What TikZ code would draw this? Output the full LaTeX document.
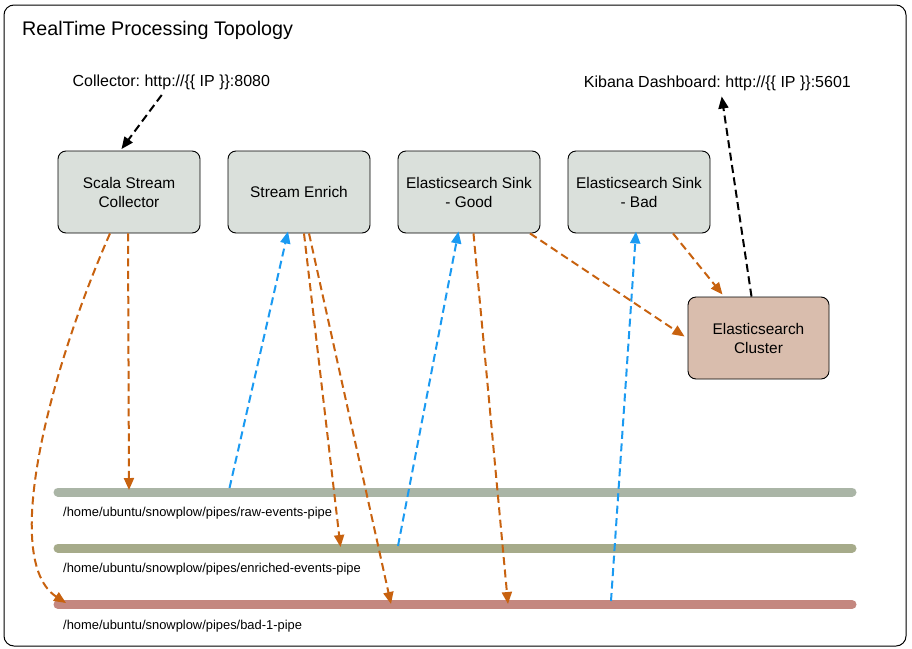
\documentclass[tikz,border=0pt]{standalone}
\usepackage{fontspec}
\setmainfont{Liberation Sans}
\usetikzlibrary{arrows.meta,calc}
\definecolor{orangeln}{HTML}{C8620F}
\definecolor{blueln}{HTML}{1A9AF2}
\definecolor{boxfill}{HTML}{DAE0DB}
\definecolor{clusterfill}{HTML}{D9BDAD}
\definecolor{rawc}{HTML}{AAB5A6}
\definecolor{enrc}{HTML}{A6AB8A}
\definecolor{badc}{HTML}{C4877F}
\frenchspacing
\tikzset{
  boxstyle/.style={draw, line width=0.9pt, rounded corners=8pt, fill=boxfill,
    minimum width=142pt, minimum height=82pt, align=center, inner sep=0pt,
    font=\fontsize{15.4}{19}\selectfont},
  pipeline/.style={line width=9pt, line cap=round},
  pipelabel/.style={anchor=base west, inner sep=0pt, font=\fontsize{12.9}{15}\selectfont},
  tiplabel/.style={anchor=base, inner sep=0pt, font=\fontsize{16}{19}\selectfont},
  flowarrow/.style={line width=2pt, dash pattern=on 8pt off 4.5pt,
    -{Triangle[length=12pt,width=10pt]}},
  orangearrow/.style={flowarrow, draw=orangeln},
  bluearrow/.style={flowarrow, draw=blueln},
  blackarrow/.style={flowarrow, draw=black},
}
\begin{document}
\begin{tikzpicture}[x=1pt,y=-1pt]
\useasboundingbox (0,0) rectangle (912,648);
\draw[rounded corners=10pt, line width=1pt, fill=white] (4,5) rectangle (906,646);

\node[anchor=base west, inner sep=0pt, font=\fontsize{19.7}{23}\selectfont] (title) at (22,35.5) {RealTime Processing Topology};

% boxes
\node[boxstyle] (coll) at (129,192) {Scala Stream\\Collector};
\node[boxstyle] (enr) at (299,192) {Stream Enrich};
\node[boxstyle] (good) at (469,192) {Elasticsearch Sink\\- Good};
\node[boxstyle] (bad) at (639,192) {Elasticsearch Sink\\- Bad};
\node[boxstyle, fill=clusterfill, minimum width=141pt] (clu) at (758.5,338) {Elasticsearch\\Cluster};

% labels
\node[tiplabel] (colllab) at (171.3,86.5) {Collector: http://\{\{ IP \}\}:8080};
\node[tiplabel] (kiblab) at (717.4,87.3) {Kibana Dashboard: http://\{\{ IP \}\}:5601};

% pipes
\coordinate (rawL) at (58,492); \coordinate (rawR) at (852,492);
\coordinate (enrL) at (58,548); \coordinate (enrR) at (852,548);
\coordinate (badL) at (58,604.5); \coordinate (badR) at (852,604.5);
\draw[pipeline, draw=rawc] (rawL) -- (rawR);
\draw[pipeline, draw=enrc] (enrL) -- (enrR);
\draw[pipeline, draw=badc] (badL) -- (badR);
\node[pipelabel] (rawlab) at (63,516) {/home/ubuntu/snowplow/pipes/raw-events-pipe};
\node[pipelabel] (enrlab) at (63,572.5) {/home/ubuntu/snowplow/pipes/enriched-events-pipe};
\node[pipelabel] (badlab) at (63,629.3) {/home/ubuntu/snowplow/pipes/bad-1-pipe};

% points on pipes
\coordinate (rawA) at (129,490);
\coordinate (rawB) at (229.5,488);
\coordinate (enrA) at (340.5,547);
\coordinate (enrB) at (398,546);
\coordinate (badA) at (66,603);
\coordinate (badB) at (391,604);
\coordinate (badC) at (508,604);
\coordinate (badD) at (611,601);
\coordinate (collIn) at (161.7,95);
\coordinate (kibOut) at (721.7,96.5);

% black arrows
\draw[blackarrow] (collIn) -- ($(coll.north)+(-7.5,-1.5)$);
\draw[blackarrow] ($(clu.north)+(-7,0)$) -- (kibOut);

% blue arrows
\draw[bluearrow] (rawB) -- ($(enr.south)+(-11,-2)$);
\draw[bluearrow] (enrB) -- ($(good.south)+(-10.5,-2)$);
\draw[bluearrow] (badD) -- ($(bad.south)+(-3,-2)$);

% orange arrows
\draw[orangearrow] ($(coll.south)+(-19,0)$) .. controls (50,370) and (0,560) .. (badA);
\draw[orangearrow] ($(coll.south)+(-1,0)$) -- (rawA);
\draw[orangearrow] ($(enr.south)+(5,0)$) -- (enrA);
\draw[orangearrow] ($(enr.south)+(10,0)$) -- (badB);
\draw[orangearrow] ($(good.south)+(4.5,0)$) -- (badC);
\draw[orangearrow] ($(good.south)+(61,0)$) -- ($(clu.west)+(-3,-1.5)$);
\draw[orangearrow] ($(bad.south)+(34,0)$) -- ($(clu.north)+(-36,-2)$);
\end{tikzpicture}
\end{document}
